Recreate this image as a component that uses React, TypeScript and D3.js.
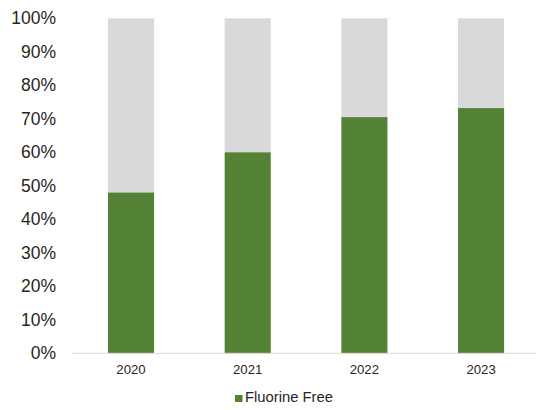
import React from "react";
import * as d3 from "d3";

const categories = ["2020", "2021", "2022", "2023"];
const fluorineFree = [48, 60, 70.5, 73.2];
const yTicks = [0, 10, 20, 30, 40, 50, 60, 70, 80, 90, 100];
const legendLabel = "Fluorine Free";

const W = 536;
const H = 410;

export default function App() {
  const x = d3.scaleBand<string>().domain(categories).range([72.7, 539.4]).paddingInner(0.605).paddingOuter(0.3025);
  const y = d3.scaleLinear().domain([0, 100]).range([353.3, 18.3]);
  const font = "'Liberation Sans', Arial, sans-serif";
  return (
    <svg width={W} height={H} style={{ position: "absolute", left: 0, top: 0 }}>
      <rect width={W} height={H} fill="#fff" />
      {categories.map((c, i) => (
        <g key={c}>
          <rect x={x(c)} y={y(100)} width={x.bandwidth()} height={y(fluorineFree[i]) - y(100)} fill="#d9d9d9" />
          <rect x={x(c)} y={y(fluorineFree[i])} width={x.bandwidth()} height={y(0) - y(fluorineFree[i])} fill="#548235" />
        </g>
      ))}
      <line x1={72} x2={W} y1={y(0)} y2={y(0)} stroke="#d9d9d9" strokeWidth={1} />
      {yTicks.map((t) => (
        <text key={t} x={56} y={y(t)} dy="0.35em" textAnchor="end" fontFamily={font} fontSize={17.5} fill="#262626">
          {t}%
        </text>
      ))}
      {categories.map((c) => (
        <text key={c} x={(x(c) as number) + x.bandwidth() / 2} y={369.5} dy="0.35em" textAnchor="middle" fontFamily={font} fontSize={13.2} fill="#262626">
          {c}
        </text>
      ))}
      <rect x={235} y={395} width={7.5} height={7} fill="#548235" />
      <text x={245} y={402.3} fontFamily={font} fontSize={14.8} fill="#262626">
        {legendLabel}
      </text>
    </svg>
  );
}
